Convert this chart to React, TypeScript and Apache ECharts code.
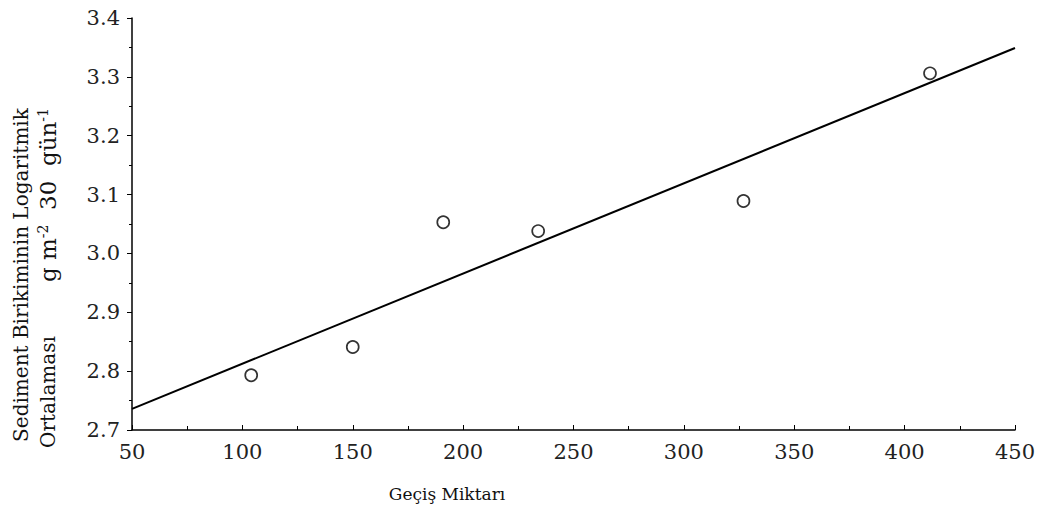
import React, { useEffect, useRef } from "react";
import * as echarts from "echarts";

const xValues = [104, 150, 191, 234, 327, 411.5];
const yValues = [2.793, 2.841, 3.053, 3.038, 3.089, 3.306];
const fitLine = [
  [50, 2.736],
  [450, 3.349],
];
const xTitle = "Geçiş Miktarı";
const yTitle1 = "Sediment Birikiminin Logaritmik";
const yTitle2a = "Ortalaması";
const FONT = "DejaVu Serif";

export default function App() {
  const ref = useRef<HTMLDivElement>(null);
  useEffect(() => {
    if (!ref.current) return;
    const chart = echarts.init(ref.current, null, { renderer: "svg" });
    chart.setOption({
      animation: false,
      backgroundColor: "#ffffff",
      grid: { left: 132, right: 29, top: 18, bottom: 78 },
      xAxis: {
        type: "value",
        min: 50,
        max: 450,
        interval: 50,
        axisLine: { lineStyle: { color: "#000", width: 1.5 } },
        axisTick: { show: true, inside: true, length: 5, lineStyle: { color: "#000" } },
        minorTick: { show: true, splitNumber: 2, length: 4, lineStyle: { color: "#000" } },
        splitLine: { show: false },
        axisLabel: { color: "#222", fontFamily: FONT, fontSize: 21, margin: 11 },
      },
      yAxis: {
        type: "value",
        min: 2.7,
        max: 3.4,
        interval: 0.1,
        axisLine: { show: true, lineStyle: { color: "#000", width: 1.5 } },
        axisTick: { show: true, length: 5, lineStyle: { color: "#000" } },
        minorTick: { show: true, splitNumber: 2, length: 3, lineStyle: { color: "#000" } },
        splitLine: { show: false },
        axisLabel: {
          color: "#222",
          fontFamily: FONT,
          fontSize: 21,
          margin: 12,
          formatter: (v: number) => v.toFixed(1),
        },
      },
      series: [
        {
          type: "line",
          data: fitLine,
          symbol: "none",
          lineStyle: { color: "#000", width: 2 },
          z: 2,
        },
        {
          type: "scatter",
          data: xValues.map((x, i) => [x, yValues[i]]),
          symbol: "circle",
          symbolSize: 12,
          itemStyle: { color: "#fff", borderColor: "#000", borderWidth: 1.7 },
          z: 3,
        },
      ],
      graphic: [
        {
          type: "text",
          x: 447,
          y: 494,
          style: {
            text: xTitle,
            fontFamily: FONT,
            fontSize: 17,
            fill: "#111",
            align: "center",
            verticalAlign: "middle",
          },
        },
        {
          type: "text",
          x: 21,
          y: 275,
          rotation: Math.PI / 2,
          style: {
            text: yTitle1,
            fontFamily: FONT,
            fontSize: 20,
            fill: "#111",
            align: "center",
            verticalAlign: "middle",
          },
        },
        {
          type: "text",
          x: 48,
          y: 392,
          rotation: Math.PI / 2,
          style: {
            text: yTitle2a,
            fontFamily: FONT,
            fontSize: 20,
            fill: "#111",
            align: "center",
            verticalAlign: "middle",
          },
        },
        {
          type: "text",
          x: 48,
          y: 195,
          rotation: Math.PI / 2,
          style: {
            text: "{n|g m}{s|-2}{n|  30  gün}{s|-1}",
            align: "center",
            verticalAlign: "middle",
            rich: {
              n: { fontFamily: FONT, fontSize: 23, fill: "#111", color: "#111" },
              s: {
                fontFamily: FONT,
                fontSize: 14,
                fill: "#111",
                color: "#111",
                padding: [0, 0, 11, 0],
              },
            },
          },
        },
      ],
    });
    return () => chart.dispose();
  }, []);
  return <div ref={ref} style={{ width: 1044, height: 508, position: "absolute", left: 0, top: 0 }} />;
}
